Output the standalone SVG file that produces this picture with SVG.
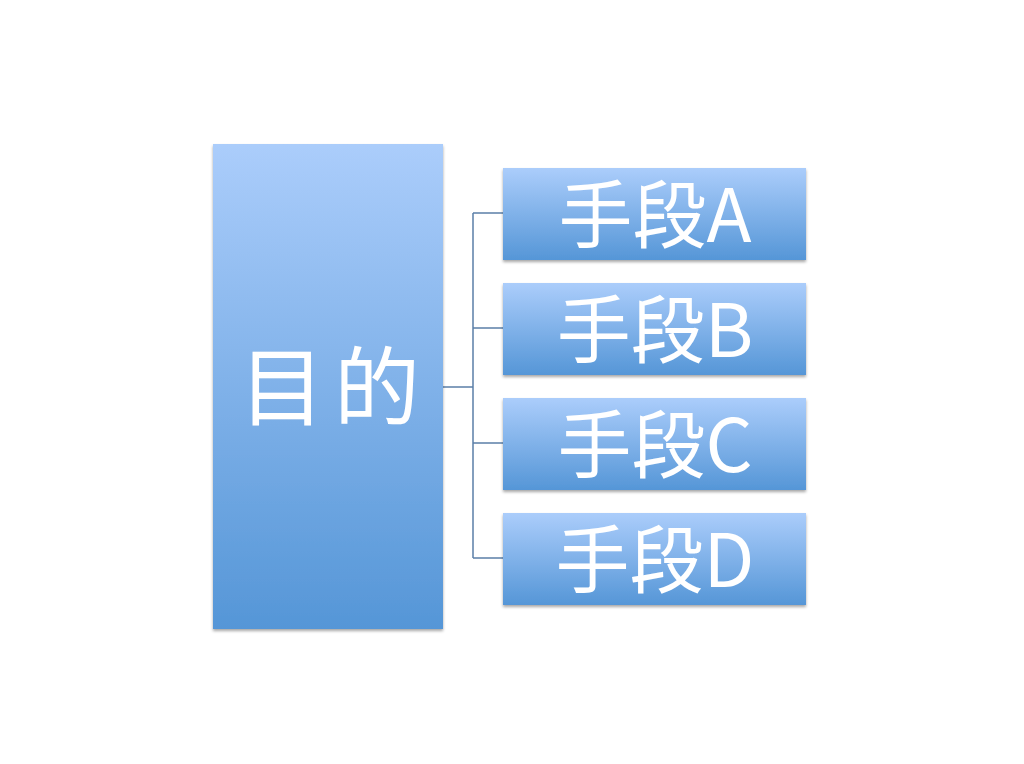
<svg xmlns="http://www.w3.org/2000/svg" width="1024" height="764" viewBox="0 0 1024 764">
<defs>
<linearGradient id="g" x1="0" y1="0" x2="0" y2="1">
<stop offset="0" stop-color="#abcdfb"/>
<stop offset="1" stop-color="#5596d7"/>
</linearGradient>
<filter id="sh" x="-10%" y="-10%" width="120%" height="130%">
<feDropShadow dx="0" dy="2" stdDeviation="1.5" flood-color="#000" flood-opacity="0.35"/>
</filter>
</defs>
<style>
.box{fill:url(#g);filter:url(#sh)}
.t{font-family:"Noto Sans CJK JP","Noto Sans CJK SC",sans-serif;fill:#fff;text-anchor:middle}
.c{stroke:#5b7fa8;stroke-width:1.5;fill:none}
</style>
<rect width="1024" height="764" fill="#fff"/>
<g id="connectors">
<path class="c" d="M443 387H473M473 213V558M473 213H503M473 328H503M473 443H503M473 558H503"/>
</g>
<g id="goal">
<rect class="box" x="213" y="144" width="230" height="485"/>
<text class="t" x="334" y="419" font-size="86" letter-spacing="9">目的</text>
</g>
<g id="meansA">
<rect class="box" x="503" y="168" width="303" height="92"/>
<text class="t" x="655" y="242" font-size="74">手段A</text>
</g>
<g id="meansB">
<rect class="box" x="503" y="283" width="303" height="92"/>
<text class="t" x="655" y="357" font-size="74">手段B</text>
</g>
<g id="meansC">
<rect class="box" x="503" y="398" width="303" height="92"/>
<text class="t" x="655" y="472" font-size="74">手段C</text>
</g>
<g id="meansD">
<rect class="box" x="503" y="513" width="303" height="92"/>
<text class="t" x="655" y="587" font-size="74">手段D</text>
</g>
</svg>
